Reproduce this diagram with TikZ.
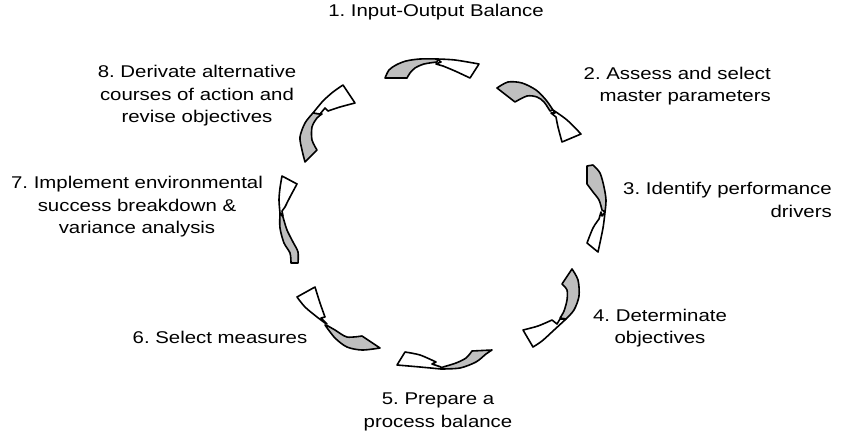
\documentclass[tikz,border=0pt]{standalone}
\usepackage{fontspec}
\setmainfont[FakeStretch=1.2]{Liberation Sans}
\begin{document}
\frenchspacing
\begin{tikzpicture}[x=1pt,y=-1pt,
  band/.style={fill=black!25, draw=black, line width=1.6pt, line join=round},
  head/.style={fill=white, draw=black, line width=1.6pt, line join=round},
  lbl/.style={inner sep=0pt, font=\fontsize{17}{22.5}\selectfont}]
\useasboundingbox (0,0) rectangle (843,439);

% ---- labels ----
\node[lbl, align=center] (t1) at (436,12) {1. Input-Output Balance};
\node[lbl, align=right, anchor=east] (t2) at (771,86) {2. Assess and select\\master parameters};
\node[lbl, align=right, anchor=east] (t3) at (832,200) {3. Identify performance\\drivers};
\node[lbl, align=center] (t4) at (660,328) {4. Determinate\\objectives};
\node[lbl, align=center] (t5) at (438,412) {5. Prepare a\\process balance};
\node[lbl, align=center] (t6) at (220,337) {6. Select measures};
\node[lbl, align=center] (t7) at (137,207) {7. Implement environmental\\success breakdown \&\\variance analysis};
\node[lbl, align=center] (t8) at (197,96) {8. Derivate alternative\\courses of action and\\revise objectives};

% ---- twisted ribbon arrows, clockwise ----
% 1 (top)
\filldraw[band] plot[smooth] coordinates {(385,78) (389,70) (396,65) (406,61) (420,59) (438,59)}
  -- plot[smooth] coordinates {(437,62) (424,64) (415,68) (410,73) (407,78)} -- cycle;
\filldraw[head] plot[smooth] coordinates {(437,59) (455,60) (479,64)}
  -- (470,78) -- plot[smooth] coordinates {(470,78) (455,71) (443,66)}
  -- (436,64) -- (441,62) -- cycle;

% 2
\filldraw[band] plot[smooth] coordinates {(497,88) (508,82) (522,83) (536,90) (546,100) (553,110)}
  -- plot[smooth] coordinates {(550,111) (544,102) (537,97) (527,96) (515,102)} -- cycle;
\filldraw[head] plot[smooth] coordinates {(553,110) (567,120) (581,134)}
  -- (562,142) -- plot[smooth] coordinates {(562,142) (558,127) (556,117)}
  -- (551,113) -- (555,113) -- cycle;

% 3
\filldraw[band] (587,166) -- plot[smooth] coordinates {(593,165) (600,173) (604,187) (606,200) (605,212)}
  -- plot[smooth] coordinates {(602,210) (599,200) (593,192) (587,184)} -- cycle;
\filldraw[head] plot[smooth] coordinates {(605,212) (603,228) (598,252)}
  -- (587,243) -- plot[smooth] coordinates {(587,243) (593,228) (599,219)}
  -- (601,212) -- (602,216) -- cycle;

% 4
\filldraw[band] plot[smooth] coordinates {(572,269) (578,280) (579,296) (574,310) (566,319)}
  -- plot[smooth] coordinates {(560,318) (564,311) (567,300) (567,290) (562,284)} -- cycle;
\filldraw[head] plot[smooth] coordinates {(566,319) (553,331) (542,341) (533,347)}
  -- (523,330) -- plot[smooth] coordinates {(523,330) (538,326) (552,320)}
  -- (557,324) -- (560,319) -- cycle;

% 5 (bottom)
\filldraw[band] plot[smooth] coordinates {(441,369) (460,368) (476,362) (486,354) (492,350)}
  -- (472,351) -- plot[smooth] coordinates {(472,351) (466,358) (456,363) (443,367)} -- cycle;
\filldraw[head] (397,365) -- plot[smooth] coordinates {(405,352) (420,355) (436,362)}
  -- (432,364) -- (441,367) -- plot[smooth] coordinates {(441,369) (420,367) (397,365)} -- cycle;

% 6
\filldraw[band] plot[smooth] coordinates {(325,325) (335,338) (347,347) (362,350) (380,348)}
  -- (362,336) -- plot[smooth] coordinates {(362,336) (347,337) (335,330) (328,326)} -- cycle;
\filldraw[head] (297,297) -- plot[smooth] coordinates {(315,287) (320,303) (325,317)}
  -- (321,318) -- (327,324) -- plot[smooth] coordinates {(325,323) (317,317) (305,307) (297,297)} -- cycle;

% 7
\filldraw[band] plot[smooth] coordinates {(280,213) (280,228) (284,243) (290,253) (291,263)}
  -- (298,263) -- plot[smooth] coordinates {(298,263) (298,252) (293,242) (287,230) (283,217)} -- cycle;
\filldraw[head] (282,176) -- plot[smooth] coordinates {(297,184) (290,197) (285,207)}
  -- (282,211) -- (283,216) -- plot[smooth] coordinates {(280,213) (279,200) (280,188) (282,176)} -- cycle;

% 8
\filldraw[band] plot[smooth] coordinates {(313,113) (305,123) (300,137) (302,150) (305,162)}
  -- (317,150) -- plot[smooth] coordinates {(317,150) (312,140) (312,127) (317,118) (322,114)} -- cycle;
\filldraw[head] (343,85) -- plot[smooth] coordinates {(355,103) (340,107) (328,111)}
  -- (325,108) -- (320,114) -- plot[smooth] coordinates {(313,113) (323,101) (333,92) (343,85)} -- cycle;
\end{tikzpicture}
\end{document}
